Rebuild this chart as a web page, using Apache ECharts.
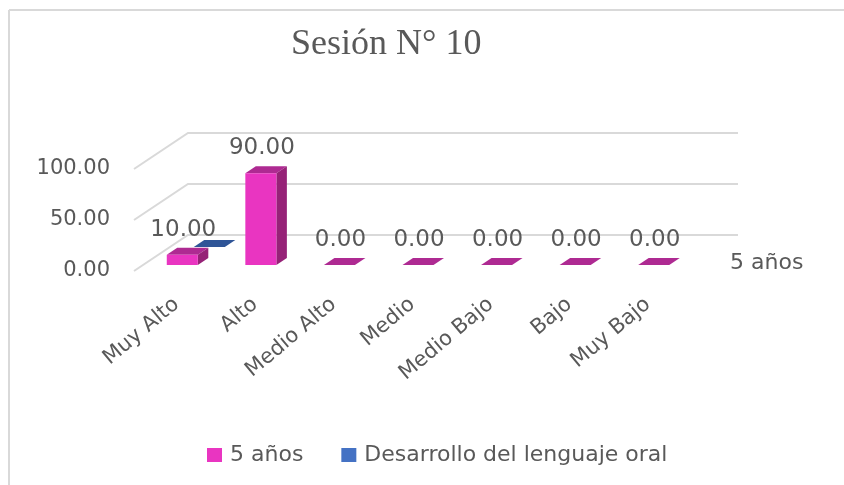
<!DOCTYPE html>
<html>
<head>
<meta charset="utf-8">
<style>html,body{margin:0;padding:0;background:#fff}#c{width:844px;height:485px}</style>
<script src="https://cdn.jsdelivr.net/npm/echarts@6/dist/echarts.min.js"></script>
</head>
<body>
<div id="c"></div>
<script>
const titleText = 'Sesión N° 10';
const categories = ['Muy Alto','Alto','Medio Alto','Medio','Medio Bajo','Bajo','Muy Bajo'];
const values5 = [10,90,0,0,0,0,0];
const valuesOral = [0,null,null,null,null,null,null];
const yTicks = [0,50,100];
const depthLabel = '5 años';
const seriesNames = ['5 años','Desarrollo del lenguaje oral'];

const FONT = 'DejaVu Sans';
const GREY = '#595959';
const SLOPE = 1.5;
function shift(p, d){ return [p[0] + d*SLOPE, p[1] - d]; }

function barRenderer(colors, d0, d1, showLabel){
  return function(params, api){
    const v = api.value(1);
    if (v === null || isNaN(v)) return null;
    const c = api.value(0);
    const w = api.size([1,0])[0]*0.395;
    const b = api.coord([c,0]), t = api.coord([c,v]);
    const bl = shift([b[0]-w/2,b[1]],d0), br = shift([b[0]+w/2,b[1]],d0);
    const tl = shift([t[0]-w/2,t[1]],d0), tr = shift([t[0]+w/2,t[1]],d0);
    const tl2 = shift([t[0]-w/2,t[1]],d1), tr2 = shift([t[0]+w/2,t[1]],d1);
    const br2 = shift([b[0]+w/2,b[1]],d1);
    const kids = [
      {type:'polygon',shape:{points:[tl,tr,tr2,tl2]},style:{fill:colors.top}},
    ];
    if (v > 0){
      kids.push({type:'polygon',shape:{points:[br,tr,tr2,br2]},style:{fill:colors.side}});
      kids.push({type:'polygon',shape:{points:[bl,br,tr,tl]},style:{fill:colors.front}});
    }
    if (showLabel){
      kids.push({type:'text',style:{x:(tl[0]+tr[0])/2+1,y:tl2[1]-18,text:v.toFixed(2),
        font:'23px "'+FONT+'"',fill:GREY,align:'center',verticalAlign:'middle'}});
    }
    return {type:'group',children:kids};
  };
}
function wallRenderer(params, api){
  const cs = params.coordSys;
  const y = api.coord([0,api.value(0)])[1];
  return {type:'polyline',shape:{points:[[cs.x,y],[cs.x+54,y-36],[cs.x+cs.width+54,y-36]]},
    style:{fill:null,stroke:'#d9d9d9',lineWidth:2}};
}

const chart = echarts.init(document.getElementById('c'),null,{renderer:'canvas'});
chart.setOption({
  animation:false,
  backgroundColor:'#fff',
  title:{text:titleText,left:286,top:22,textStyle:{fontFamily:'Liberation Serif',fontSize:36,fontWeight:'normal',color:GREY}},
  legend:{data:seriesNames.map(n=>({name:n,icon:'rect'})),left:202,top:439,itemWidth:15,itemHeight:14,itemGap:38,
    textStyle:{fontFamily:FONT,fontSize:22,color:GREY,padding:[0,0,0,3]},selectedMode:false},
  grid:{left:134,top:169,width:550,height:102},
  xAxis:{type:'category',data:categories,axisLine:{show:false},axisTick:{show:false},splitLine:{show:false},
    axisLabel:{interval:0,rotate:40,margin:27,verticalAlign:'top',lineHeight:10,fontFamily:FONT,fontSize:21,color:GREY},
    name:depthLabel,nameLocation:'end',nameGap:46,
    nameTextStyle:{fontFamily:FONT,fontSize:22,color:GREY,align:'left',verticalAlign:'bottom',lineHeight:16}},
  yAxis:{type:'value',min:0,max:100,interval:50,axisLine:{show:false},axisTick:{show:false},splitLine:{show:false},
    axisLabel:{margin:24,fontFamily:FONT,fontSize:21,color:GREY,formatter:v=>v.toFixed(2)}},
  series:[
    {type:'custom',name:'walls',silent:true,z:1,renderItem:wallRenderer,data:yTicks.map(v=>[v]),encode:{y:0}},
    {type:'custom',name:seriesNames[1],z:2,itemStyle:{color:'#4472C4'},
      renderItem:barRenderer({front:'#4472C4',side:'#2F5597',top:'#2F5597'},24,31,false),
      data:valuesOral.map((v,i)=>[i,v]),encode:{x:0,y:1}},
    {type:'custom',name:seriesNames[0],z:3,itemStyle:{color:'#E935C1'},
      renderItem:barRenderer({front:'#E935C1',side:'#962277',top:'#AE2A92'},6,13,true),
      data:values5.map((v,i)=>[i,v]),encode:{x:0,y:1}}
  ],
  graphic:[
    {type:'line',shape:{x1:9,y1:10,x2:844,y2:10},style:{stroke:'#d9d9d9',lineWidth:2},silent:true},
    {type:'line',shape:{x1:9,y1:10,x2:9,y2:485},style:{stroke:'#d9d9d9',lineWidth:2},silent:true}
  ]
});
</script>
</body>
</html>
